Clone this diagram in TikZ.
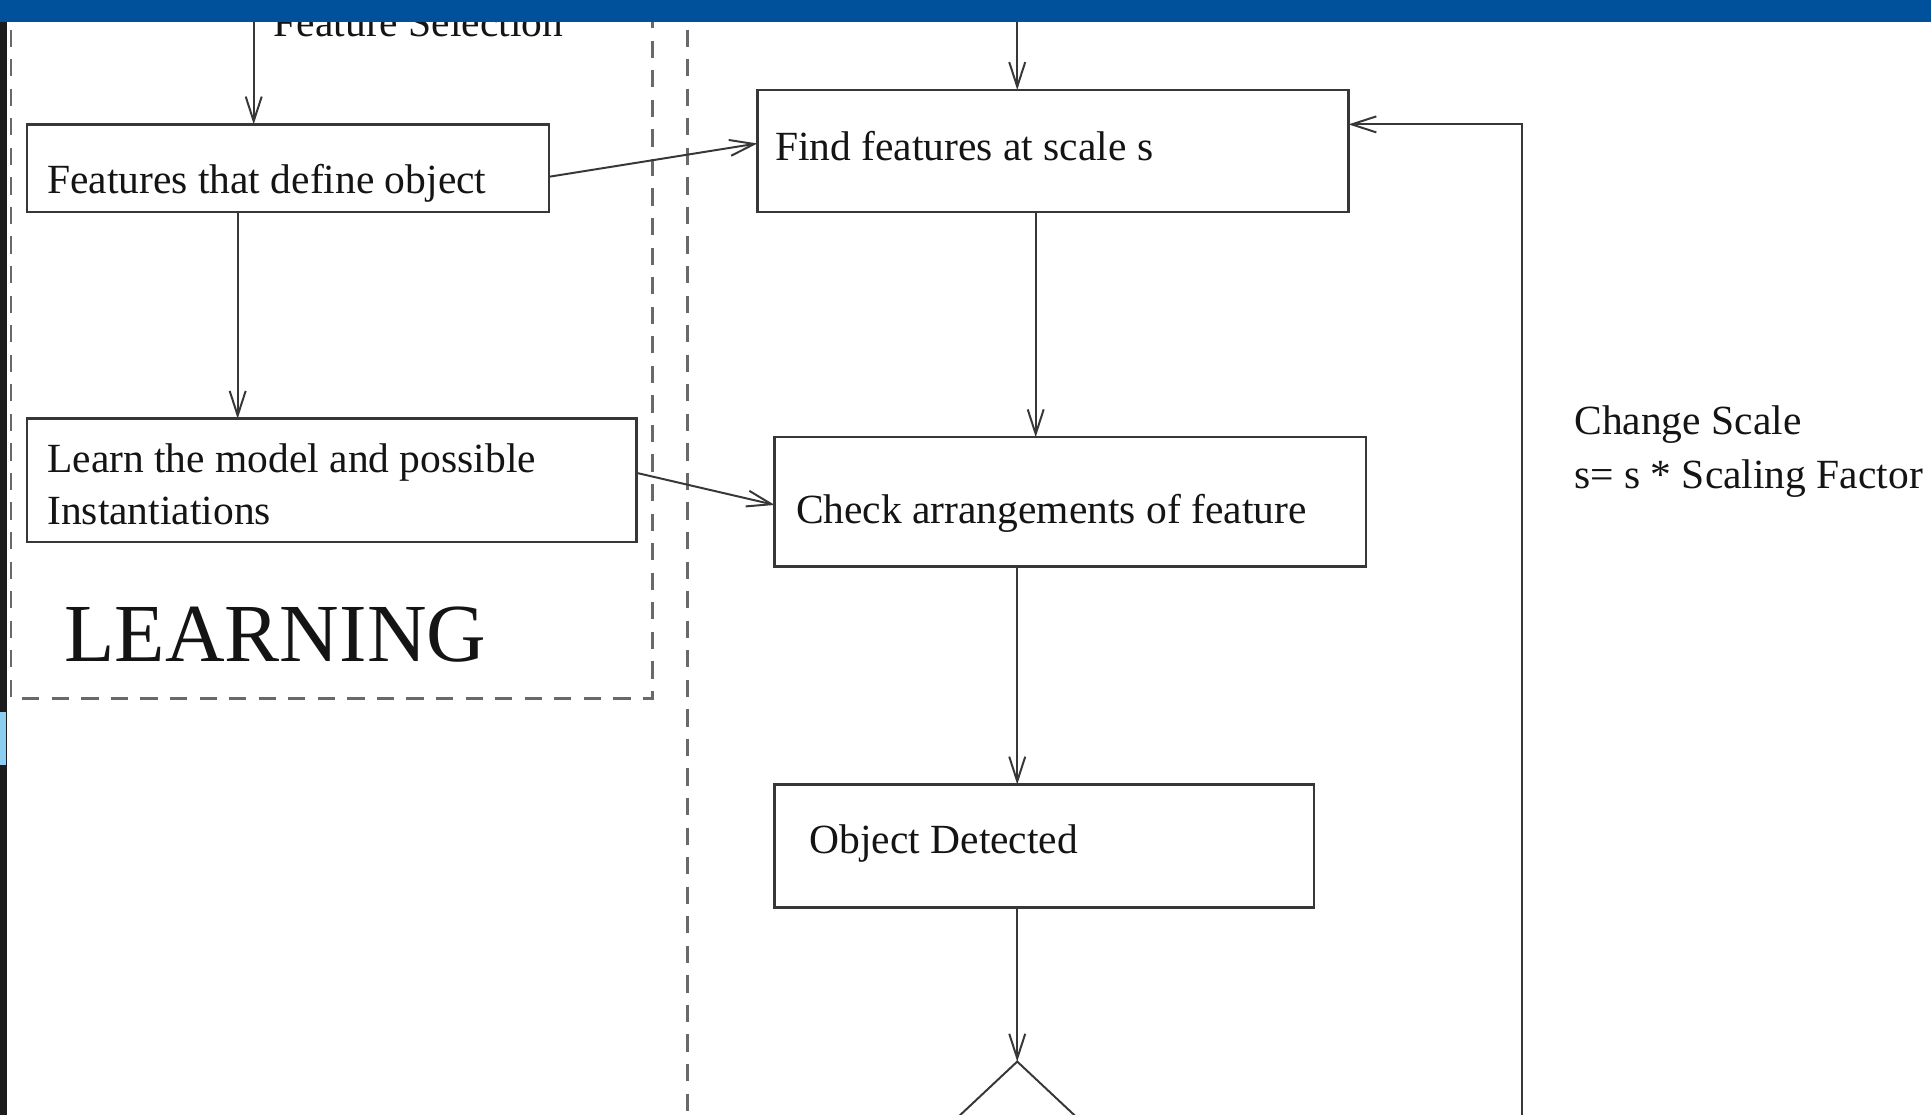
\documentclass[tikz,border=0pt]{standalone}
\usepackage{fontspec}
\setmainfont{Liberation Serif}
\usetikzlibrary{arrows.meta,shapes.geometric}
\definecolor{barblue}{RGB}{0,81,155}
\definecolor{lineg}{RGB}{55,55,55}
\definecolor{dashg}{RGB}{105,105,105}
\definecolor{txt}{RGB}{20,20,20}
\definecolor{lblue}{RGB}{140,205,240}
\definecolor{sideblack}{RGB}{28,28,28}
\begin{document}
\begin{tikzpicture}[x=0.5pt,y=-0.5pt,
  box/.style={draw=lineg, line width=1pt, inner sep=0pt, outer sep=0pt, anchor=north west},
  lbl/.style={anchor=base west, inner sep=0pt, text=txt, font=\fontsize{16.85}{20}\selectfont},
  arr/.style={draw=lineg, line width=0.8pt, -{Straight Barb[length=10pt,width=6.5pt]}},
  dsh/.style={draw=dashg, line width=1.1pt, dash pattern=on 7pt off 5pt}]
\useasboundingbox (0,0) rectangle (1568,905);
\clip (0,0) rectangle (1568,905);
\fill[white] (0,0) rectangle (1568,905);

% dashed frames
\draw[dsh] (9,0) -- (9,567) -- (530,567) -- (530,0);
\draw[dsh] (558,0) -- (558,905);

% boxes
\node[box, minimum width=212pt, minimum height=35.5pt] (feat) at (22,101) {};
\node[box, minimum width=247.5pt, minimum height=50pt] (learn) at (22,340) {};
\node[box, minimum width=240pt, minimum height=49.5pt] (find) at (615,73) {};
\node[box, minimum width=240pt, minimum height=52.5pt] (check) at (629,355) {};
\node[box, minimum width=219pt, minimum height=50pt] (obj) at (629,637) {};
\node[draw=lineg, line width=0.8pt, diamond, inner sep=0pt, outer sep=0pt, minimum width=96pt, minimum height=90pt] (dec) at (826,952) {};

% labels
\node[lbl] (tfs) at (222,30) {Feature Selection};
\node[lbl] (tfeat) at (38,157) {Features that define object};
\node[lbl] (tl1) at (38,384) {Learn the model and possible};
\node[lbl] (tl2) at (38,425.5) {Instantiations};
\node[lbl, font=\fontsize{33.5}{40}\selectfont] (tlearn) at (52,537) {LEARNING};
\node[lbl] (tfind) at (629,130) {Find features at scale s};
\node[lbl] (tcheck) at (646,425) {Check arrangements of feature};
\node[lbl] (tobj) at (657,693) {Object Detected};
\node[lbl] (tcs1) at (1278,353) {Change Scale};
\node[lbl] (tcs2) at (1278,396.5) {s= s * Scaling Factor};

% connector helpers
\coordinate (topA) at (206,0);
\coordinate (topB) at (826,0);
\coordinate (xA) at (193,0);
\coordinate (xB) at (841,0);
\coordinate (loopbot) at (1236,910);
\coordinate (loopcorner) at (1236,101);

\draw[arr] (topA) -- (topA |- feat.north);
\draw[arr] (feat.south -| xA) -- (learn.north -| xA);
\draw[arr] ([yshift=-3.5pt]feat.east) -- ([yshift=3pt]find.west);
\draw[arr] ([yshift=3pt]learn.east) -- ([yshift=-1.25pt]check.west);
\draw[arr] (topB) -- (topB |- find.north);
\draw[arr] (find.south -| xB) -- (check.north -| xB);
\draw[arr] (check.south -| topB) -- (obj.north -| topB);
\draw[arr] (obj.south -| topB) -- (dec.north);
\draw[arr] (loopbot) -- (loopcorner) -- (loopcorner -| find.east);

% screen frame
\fill[barblue] (0,0) rectangle (1568,18);
\fill[sideblack] (0,18) rectangle (6,905);
\fill[lblue] (0,578) rectangle (4.5,621);
\end{tikzpicture}
\end{document}
